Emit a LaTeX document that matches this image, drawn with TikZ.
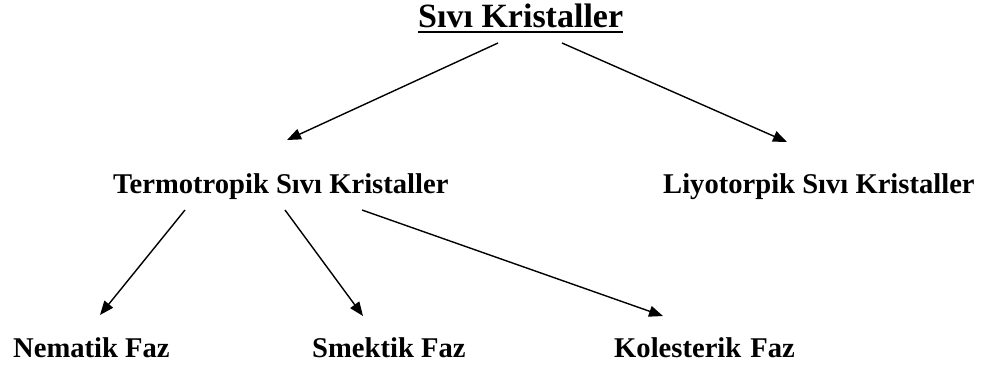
\documentclass[tikz,border=0pt]{standalone}
\usepackage{fontspec}
\setmainfont{Liberation Serif}
\usetikzlibrary{arrows.meta}
\begin{document}
\begin{tikzpicture}[x=1pt,y=-1pt,
  lbl/.style={anchor=base west,inner sep=0pt,font=\fontsize{28.6}{30}\selectfont\bfseries},
  ttl/.style={anchor=base west,inner sep=0pt,font=\fontsize{34}{36}\selectfont\bfseries},
  arr/.style={line width=1.4pt,-{Triangle[length=14pt,width=11pt]}}]
\useasboundingbox[fill=white] (0,0) rectangle (982,367);
\node[ttl] (title) at (418,27) {Sıvı Kristaller};
\node[lbl] (termo) at (113,193) {Termotropik Sıvı Kristaller};
\node[lbl] (liyo) at (663,193) {Liyotorpik Sıvı Kristaller};
\node[lbl] (nem) at (13,357) {Nematik Faz};
\node[lbl] (smek) at (312,357) {Smektik Faz};
\node[lbl] (kol) at (614,357) {Kolesterik\hspace{2pt} Faz};
\draw[line width=2pt] ([yshift=-5pt]title.base west) -- ([yshift=-5pt]title.base east);
\draw[arr] ([xshift=80pt,yshift=-16pt]title.base west) -- ([xshift=174pt,yshift=53pt]termo.base west);
\draw[arr] ([xshift=144pt,yshift=-16pt]title.base west) -- ([xshift=124pt,yshift=51pt]liyo.base west);
\draw[arr] ([xshift=72pt,yshift=-17pt]termo.base west) -- ([xshift=87pt,yshift=42pt]nem.base west);
\draw[arr] ([xshift=172pt,yshift=-17pt]termo.base west) -- ([xshift=51pt,yshift=41pt]smek.base west);
\draw[arr] ([xshift=249pt,yshift=-17pt]termo.base west) -- ([xshift=49pt,yshift=41pt]kol.base west);
\end{tikzpicture}
\end{document}
